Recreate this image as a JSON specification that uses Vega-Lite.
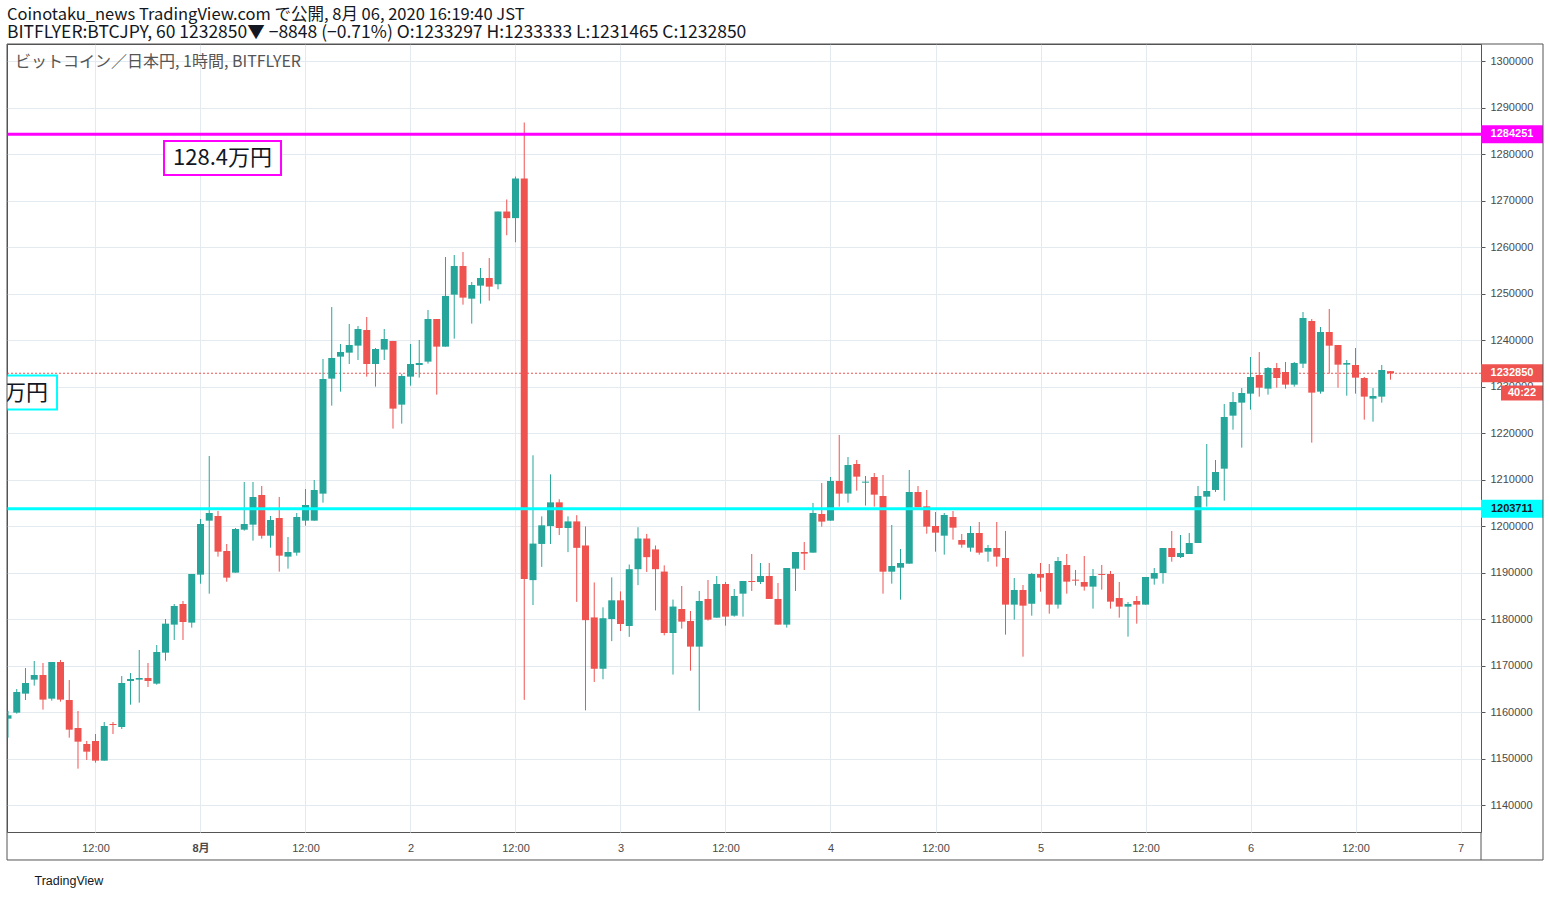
{
  "$schema": "https://vega.github.io/schema/vega-lite/v6.json",
  "width": 1474,
  "height": 788,
  "autosize": {"type": "none"},
  "padding": {"left": 7, "top": 44, "right": 69, "bottom": 66},
  "background": "white",
  "title": {
    "text": "Coinotaku_news TradingView.com で公開, 8月 06, 2020 16:19:40 JST",
    "subtitle": "BITFLYER:BTCJPY, 60 1232850▼ −8848 (−0.71%) O:1233297 H:1233333 L:1231465 C:1232850",
    "anchor": "start",
    "frame": "group",
    "offset": 2,
    "font": "Noto Sans CJK JP",
    "fontSize": 16.5,
    "fontWeight": "normal",
    "color": "#131722",
    "subtitleFont": "Noto Sans CJK JP",
    "subtitleFontSize": 17.5,
    "subtitleColor": "#131722",
    "subtitlePadding": 1
  },
  "config": {
    "view": {"stroke": "#555"},
    "axis": {
      "gridColor": "#e3eaf0",
      "gridWidth": 1,
      "labelFont": "Liberation Sans, Noto Sans CJK JP",
      "labelFontSize": 11,
      "labelColor": "#4a4a4a"
    }
  },
  "datasets": {
    "candles": [
      {"t": "2020-07-31T02:00:00Z", "o": 1158570, "h": 1160220, "l": 1154480, "c": 1159290},
      {"t": "2020-07-31T03:00:00Z", "o": 1159860, "h": 1164950, "l": 1159650, "c": 1164300},
      {"t": "2020-07-31T04:00:00Z", "o": 1163950, "h": 1169470, "l": 1162580, "c": 1166240},
      {"t": "2020-07-31T05:00:00Z", "o": 1166960, "h": 1170970, "l": 1165670, "c": 1167960},
      {"t": "2020-07-31T06:00:00Z", "o": 1167960, "h": 1170540, "l": 1160510, "c": 1162660},
      {"t": "2020-07-31T07:00:00Z", "o": 1162870, "h": 1170760, "l": 1162440, "c": 1170760},
      {"t": "2020-07-31T08:00:00Z", "o": 1170760, "h": 1171190, "l": 1162230, "c": 1162660},
      {"t": "2020-07-31T09:00:00Z", "o": 1162580, "h": 1166880, "l": 1154480, "c": 1156200},
      {"t": "2020-07-31T10:00:00Z", "o": 1156560, "h": 1160220, "l": 1147820, "c": 1153620},
      {"t": "2020-07-31T11:00:00Z", "o": 1153120, "h": 1153770, "l": 1149680, "c": 1151470},
      {"t": "2020-07-31T12:00:00Z", "o": 1153770, "h": 1155270, "l": 1149110, "c": 1149540},
      {"t": "2020-07-31T13:00:00Z", "o": 1149540, "h": 1157850, "l": 1149540, "c": 1156990},
      {"t": "2020-07-31T14:00:00Z", "o": 1157420, "h": 1157850, "l": 1155270, "c": 1157210},
      {"t": "2020-07-31T15:00:00Z", "o": 1156780, "h": 1167750, "l": 1156350, "c": 1166240},
      {"t": "2020-07-31T16:00:00Z", "o": 1166670, "h": 1168390, "l": 1161580, "c": 1167100},
      {"t": "2020-07-31T17:00:00Z", "o": 1166960, "h": 1173340, "l": 1162010, "c": 1167310},
      {"t": "2020-07-31T18:00:00Z", "o": 1167310, "h": 1170540, "l": 1165380, "c": 1166670},
      {"t": "2020-07-31T19:00:00Z", "o": 1166100, "h": 1174410, "l": 1165880, "c": 1172910},
      {"t": "2020-07-31T20:00:00Z", "o": 1172760, "h": 1180000, "l": 1171040, "c": 1179000},
      {"t": "2020-07-31T21:00:00Z", "o": 1178790, "h": 1183230, "l": 1175490, "c": 1182800},
      {"t": "2020-07-31T22:00:00Z", "o": 1183230, "h": 1183880, "l": 1175490, "c": 1179360},
      {"t": "2020-07-31T23:00:00Z", "o": 1179220, "h": 1189680, "l": 1178140, "c": 1189680},
      {"t": "2020-08-01T00:00:00Z", "o": 1189540, "h": 1201510, "l": 1187600, "c": 1200430},
      {"t": "2020-08-01T01:00:00Z", "o": 1201150, "h": 1215060, "l": 1185450, "c": 1202800},
      {"t": "2020-08-01T02:00:00Z", "o": 1202150, "h": 1203230, "l": 1193410, "c": 1194480},
      {"t": "2020-08-01T03:00:00Z", "o": 1194630, "h": 1196130, "l": 1188030, "c": 1188890},
      {"t": "2020-08-01T04:00:00Z", "o": 1189970, "h": 1199570, "l": 1189970, "c": 1199360},
      {"t": "2020-08-01T05:00:00Z", "o": 1199210, "h": 1209460, "l": 1199000, "c": 1200430},
      {"t": "2020-08-01T06:00:00Z", "o": 1200290, "h": 1209460, "l": 1196850, "c": 1206240},
      {"t": "2020-08-01T07:00:00Z", "o": 1206670, "h": 1208600, "l": 1197280, "c": 1197920},
      {"t": "2020-08-01T08:00:00Z", "o": 1197920, "h": 1202150, "l": 1195340, "c": 1201290},
      {"t": "2020-08-01T09:00:00Z", "o": 1201720, "h": 1206240, "l": 1190180, "c": 1193620},
      {"t": "2020-08-01T10:00:00Z", "o": 1193410, "h": 1197640, "l": 1190830, "c": 1194410},
      {"t": "2020-08-01T11:00:00Z", "o": 1194270, "h": 1202800, "l": 1193620, "c": 1201940},
      {"t": "2020-08-01T12:00:00Z", "o": 1201150, "h": 1207960, "l": 1200070, "c": 1204520},
      {"t": "2020-08-01T13:00:00Z", "o": 1201150, "h": 1209890, "l": 1201150, "c": 1207740},
      {"t": "2020-08-01T14:00:00Z", "o": 1206960, "h": 1235920, "l": 1205020, "c": 1231620},
      {"t": "2020-08-01T15:00:00Z", "o": 1231690, "h": 1247100, "l": 1225880, "c": 1236130},
      {"t": "2020-08-01T16:00:00Z", "o": 1236420, "h": 1239140, "l": 1228890, "c": 1237420},
      {"t": "2020-08-01T17:00:00Z", "o": 1237280, "h": 1243440, "l": 1234840, "c": 1238930},
      {"t": "2020-08-01T18:00:00Z", "o": 1238790, "h": 1243010, "l": 1235700, "c": 1242370},
      {"t": "2020-08-01T19:00:00Z", "o": 1242150, "h": 1244950, "l": 1232120, "c": 1234840},
      {"t": "2020-08-01T20:00:00Z", "o": 1234840, "h": 1238280, "l": 1229970, "c": 1238070},
      {"t": "2020-08-01T21:00:00Z", "o": 1237930, "h": 1242370, "l": 1235700, "c": 1240220},
      {"t": "2020-08-01T22:00:00Z", "o": 1239790, "h": 1239790, "l": 1220940, "c": 1225240},
      {"t": "2020-08-01T23:00:00Z", "o": 1226100, "h": 1232690, "l": 1222010, "c": 1232260},
      {"t": "2020-08-02T00:00:00Z", "o": 1232120, "h": 1239140, "l": 1230180, "c": 1234840},
      {"t": "2020-08-02T01:00:00Z", "o": 1234630, "h": 1240000, "l": 1231910, "c": 1235060},
      {"t": "2020-08-02T02:00:00Z", "o": 1235350, "h": 1246460, "l": 1234920, "c": 1244520},
      {"t": "2020-08-02T03:00:00Z", "o": 1244520, "h": 1244520, "l": 1228250, "c": 1238570},
      {"t": "2020-08-02T04:00:00Z", "o": 1238570, "h": 1257850, "l": 1238570, "c": 1249470},
      {"t": "2020-08-02T05:00:00Z", "o": 1249750, "h": 1258280, "l": 1240290, "c": 1255920},
      {"t": "2020-08-02T06:00:00Z", "o": 1255920, "h": 1258930, "l": 1247600, "c": 1249110},
      {"t": "2020-08-02T07:00:00Z", "o": 1248890, "h": 1252480, "l": 1243520, "c": 1251830},
      {"t": "2020-08-02T08:00:00Z", "o": 1251690, "h": 1255490, "l": 1247820, "c": 1253340},
      {"t": "2020-08-02T09:00:00Z", "o": 1253340, "h": 1257640, "l": 1248460, "c": 1251470},
      {"t": "2020-08-02T10:00:00Z", "o": 1251990, "h": 1267630, "l": 1250900, "c": 1267630},
      {"t": "2020-08-02T11:00:00Z", "o": 1267630, "h": 1270220, "l": 1262530, "c": 1266210},
      {"t": "2020-08-02T12:00:00Z", "o": 1266210, "h": 1275150, "l": 1261020, "c": 1274730},
      {"t": "2020-08-02T13:00:00Z", "o": 1274730, "h": 1286770, "l": 1162610, "c": 1188620},
      {"t": "2020-08-02T14:00:00Z", "o": 1188360, "h": 1215200, "l": 1183010, "c": 1196220},
      {"t": "2020-08-02T15:00:00Z", "o": 1196140, "h": 1202080, "l": 1191210, "c": 1200150},
      {"t": "2020-08-02T16:00:00Z", "o": 1199990, "h": 1211110, "l": 1196140, "c": 1205090},
      {"t": "2020-08-02T17:00:00Z", "o": 1205090, "h": 1205760, "l": 1198060, "c": 1199570},
      {"t": "2020-08-02T18:00:00Z", "o": 1199570, "h": 1202080, "l": 1194380, "c": 1200990},
      {"t": "2020-08-02T19:00:00Z", "o": 1200990, "h": 1202330, "l": 1183680, "c": 1195300},
      {"t": "2020-08-02T20:00:00Z", "o": 1195810, "h": 1199900, "l": 1160360, "c": 1179750},
      {"t": "2020-08-02T21:00:00Z", "o": 1180340, "h": 1187860, "l": 1166460, "c": 1169300},
      {"t": "2020-08-02T22:00:00Z", "o": 1169300, "h": 1182510, "l": 1167040, "c": 1180170},
      {"t": "2020-08-02T23:00:00Z", "o": 1180000, "h": 1188950, "l": 1175240, "c": 1184020},
      {"t": "2020-08-03T00:00:00Z", "o": 1184020, "h": 1185940, "l": 1177410, "c": 1178920},
      {"t": "2020-08-03T01:00:00Z", "o": 1178500, "h": 1191710, "l": 1176160, "c": 1190710},
      {"t": "2020-08-03T02:00:00Z", "o": 1190710, "h": 1199740, "l": 1187280, "c": 1197310},
      {"t": "2020-08-03T03:00:00Z", "o": 1197310, "h": 1198310, "l": 1190120, "c": 1193300},
      {"t": "2020-08-03T04:00:00Z", "o": 1194970, "h": 1195810, "l": 1181840, "c": 1190710},
      {"t": "2020-08-03T05:00:00Z", "o": 1190200, "h": 1191540, "l": 1176490, "c": 1176990},
      {"t": "2020-08-03T06:00:00Z", "o": 1176990, "h": 1184180, "l": 1168050, "c": 1182680},
      {"t": "2020-08-03T07:00:00Z", "o": 1182150, "h": 1187100, "l": 1177930, "c": 1179430},
      {"t": "2020-08-03T08:00:00Z", "o": 1179570, "h": 1181720, "l": 1168890, "c": 1174060},
      {"t": "2020-08-03T09:00:00Z", "o": 1174060, "h": 1186030, "l": 1160290, "c": 1183880},
      {"t": "2020-08-03T10:00:00Z", "o": 1184310, "h": 1188390, "l": 1179650, "c": 1179860},
      {"t": "2020-08-03T11:00:00Z", "o": 1180290, "h": 1189250, "l": 1180290, "c": 1187530},
      {"t": "2020-08-03T12:00:00Z", "o": 1187530, "h": 1187960, "l": 1178570, "c": 1180510},
      {"t": "2020-08-03T13:00:00Z", "o": 1180720, "h": 1186460, "l": 1180510, "c": 1184950},
      {"t": "2020-08-03T14:00:00Z", "o": 1185450, "h": 1188180, "l": 1180510, "c": 1188180},
      {"t": "2020-08-03T15:00:00Z", "o": 1188180, "h": 1193980, "l": 1186030, "c": 1187960},
      {"t": "2020-08-03T16:00:00Z", "o": 1187960, "h": 1192050, "l": 1187530, "c": 1189250},
      {"t": "2020-08-03T17:00:00Z", "o": 1189250, "h": 1192050, "l": 1184310, "c": 1184310},
      {"t": "2020-08-03T18:00:00Z", "o": 1184310, "h": 1187750, "l": 1178790, "c": 1178790},
      {"t": "2020-08-03T19:00:00Z", "o": 1178790, "h": 1190970, "l": 1178140, "c": 1190970},
      {"t": "2020-08-03T20:00:00Z", "o": 1190830, "h": 1194410, "l": 1186030, "c": 1194410},
      {"t": "2020-08-03T21:00:00Z", "o": 1194410, "h": 1196560, "l": 1190540, "c": 1194050},
      {"t": "2020-08-03T22:00:00Z", "o": 1194270, "h": 1204950, "l": 1194270, "c": 1202800},
      {"t": "2020-08-03T23:00:00Z", "o": 1202580, "h": 1209250, "l": 1199860, "c": 1200940},
      {"t": "2020-08-04T00:00:00Z", "o": 1201150, "h": 1210540, "l": 1201150, "c": 1209680},
      {"t": "2020-08-04T01:00:00Z", "o": 1209680, "h": 1219570, "l": 1204160, "c": 1206960},
      {"t": "2020-08-04T02:00:00Z", "o": 1206960, "h": 1214840, "l": 1205020, "c": 1213120},
      {"t": "2020-08-04T03:00:00Z", "o": 1213340, "h": 1214200, "l": 1207600, "c": 1210610},
      {"t": "2020-08-04T04:00:00Z", "o": 1209320, "h": 1210760, "l": 1204380, "c": 1209540},
      {"t": "2020-08-04T05:00:00Z", "o": 1210540, "h": 1211400, "l": 1204160, "c": 1206740},
      {"t": "2020-08-04T06:00:00Z", "o": 1206450, "h": 1210970, "l": 1185450, "c": 1190180},
      {"t": "2020-08-04T07:00:00Z", "o": 1190180, "h": 1200220, "l": 1187600, "c": 1191400},
      {"t": "2020-08-04T08:00:00Z", "o": 1191040, "h": 1195060, "l": 1184160, "c": 1192050},
      {"t": "2020-08-04T09:00:00Z", "o": 1191900, "h": 1212050, "l": 1191900, "c": 1207310},
      {"t": "2020-08-04T10:00:00Z", "o": 1207310, "h": 1208600, "l": 1204020, "c": 1204020},
      {"t": "2020-08-04T11:00:00Z", "o": 1204230, "h": 1207740, "l": 1198350, "c": 1199860},
      {"t": "2020-08-04T12:00:00Z", "o": 1200000, "h": 1203010, "l": 1194480, "c": 1198570},
      {"t": "2020-08-04T13:00:00Z", "o": 1197920, "h": 1202800, "l": 1193840, "c": 1202370},
      {"t": "2020-08-04T14:00:00Z", "o": 1201940, "h": 1203230, "l": 1197060, "c": 1199640},
      {"t": "2020-08-04T15:00:00Z", "o": 1196990, "h": 1198280, "l": 1195340, "c": 1195990},
      {"t": "2020-08-04T16:00:00Z", "o": 1195340, "h": 1200000, "l": 1194480, "c": 1198500},
      {"t": "2020-08-04T17:00:00Z", "o": 1198500, "h": 1200860, "l": 1193840, "c": 1194270},
      {"t": "2020-08-04T18:00:00Z", "o": 1194480, "h": 1195920, "l": 1192330, "c": 1195270},
      {"t": "2020-08-04T19:00:00Z", "o": 1195270, "h": 1200860, "l": 1191260, "c": 1193410},
      {"t": "2020-08-04T20:00:00Z", "o": 1193120, "h": 1198930, "l": 1176640, "c": 1183090},
      {"t": "2020-08-04T21:00:00Z", "o": 1183090, "h": 1188820, "l": 1179860, "c": 1186240},
      {"t": "2020-08-04T22:00:00Z", "o": 1186240, "h": 1187320, "l": 1171900, "c": 1182870},
      {"t": "2020-08-04T23:00:00Z", "o": 1183300, "h": 1189900, "l": 1180720, "c": 1189680},
      {"t": "2020-08-05T00:00:00Z", "o": 1189680, "h": 1192050, "l": 1185880, "c": 1188890},
      {"t": "2020-08-05T01:00:00Z", "o": 1189900, "h": 1191830, "l": 1181150, "c": 1183090},
      {"t": "2020-08-05T02:00:00Z", "o": 1183090, "h": 1193340, "l": 1182230, "c": 1192480},
      {"t": "2020-08-05T03:00:00Z", "o": 1191620, "h": 1193980, "l": 1185450, "c": 1188030},
      {"t": "2020-08-05T04:00:00Z", "o": 1188460, "h": 1190540, "l": 1187170, "c": 1188250},
      {"t": "2020-08-05T05:00:00Z", "o": 1187960, "h": 1193550, "l": 1186100, "c": 1186960},
      {"t": "2020-08-05T06:00:00Z", "o": 1186960, "h": 1190760, "l": 1182230, "c": 1189250},
      {"t": "2020-08-05T07:00:00Z", "o": 1189680, "h": 1191620, "l": 1186310, "c": 1189470},
      {"t": "2020-08-05T08:00:00Z", "o": 1189680, "h": 1190330, "l": 1182230, "c": 1183730},
      {"t": "2020-08-05T09:00:00Z", "o": 1184520, "h": 1187960, "l": 1180290, "c": 1182660},
      {"t": "2020-08-05T10:00:00Z", "o": 1182660, "h": 1183660, "l": 1176210, "c": 1183230},
      {"t": "2020-08-05T11:00:00Z", "o": 1183870, "h": 1184950, "l": 1179000, "c": 1183090},
      {"t": "2020-08-05T12:00:00Z", "o": 1183090, "h": 1189040, "l": 1183090, "c": 1189040},
      {"t": "2020-08-05T13:00:00Z", "o": 1188680, "h": 1190970, "l": 1187390, "c": 1189900},
      {"t": "2020-08-05T14:00:00Z", "o": 1189900, "h": 1195270, "l": 1187600, "c": 1195270},
      {"t": "2020-08-05T15:00:00Z", "o": 1195270, "h": 1198930, "l": 1192330, "c": 1193340},
      {"t": "2020-08-05T16:00:00Z", "o": 1193340, "h": 1198070, "l": 1193120, "c": 1194200},
      {"t": "2020-08-05T17:00:00Z", "o": 1193980, "h": 1198500, "l": 1193980, "c": 1196350},
      {"t": "2020-08-05T18:00:00Z", "o": 1196350, "h": 1208610, "l": 1196350, "c": 1206450},
      {"t": "2020-08-05T19:00:00Z", "o": 1206310, "h": 1217640, "l": 1204160, "c": 1207530},
      {"t": "2020-08-05T20:00:00Z", "o": 1207750, "h": 1214200, "l": 1207320, "c": 1211620},
      {"t": "2020-08-05T21:00:00Z", "o": 1212330, "h": 1226240, "l": 1205450, "c": 1223440},
      {"t": "2020-08-05T22:00:00Z", "o": 1223730, "h": 1228820, "l": 1220720, "c": 1226670},
      {"t": "2020-08-05T23:00:00Z", "o": 1226530, "h": 1229680, "l": 1216850, "c": 1228610},
      {"t": "2020-08-06T00:00:00Z", "o": 1228460, "h": 1236350, "l": 1225020, "c": 1232050},
      {"t": "2020-08-06T01:00:00Z", "o": 1232480, "h": 1237420, "l": 1227820, "c": 1229750},
      {"t": "2020-08-06T02:00:00Z", "o": 1229540, "h": 1234200, "l": 1228250, "c": 1233980},
      {"t": "2020-08-06T03:00:00Z", "o": 1233980, "h": 1235060, "l": 1229750, "c": 1231830},
      {"t": "2020-08-06T04:00:00Z", "o": 1233120, "h": 1235270, "l": 1229540, "c": 1230400},
      {"t": "2020-08-06T05:00:00Z", "o": 1230400, "h": 1235270, "l": 1229970, "c": 1235060},
      {"t": "2020-08-06T06:00:00Z", "o": 1234910, "h": 1246020, "l": 1233980, "c": 1244730},
      {"t": "2020-08-06T07:00:00Z", "o": 1244090, "h": 1244520, "l": 1217930, "c": 1228680},
      {"t": "2020-08-06T08:00:00Z", "o": 1228890, "h": 1242800, "l": 1228460, "c": 1241720},
      {"t": "2020-08-06T09:00:00Z", "o": 1241720, "h": 1246670, "l": 1232760, "c": 1238780},
      {"t": "2020-08-06T10:00:00Z", "o": 1238930, "h": 1238930, "l": 1229750, "c": 1234700},
      {"t": "2020-08-06T11:00:00Z", "o": 1234700, "h": 1235700, "l": 1228030, "c": 1235060},
      {"t": "2020-08-06T12:00:00Z", "o": 1234630, "h": 1238280, "l": 1228460, "c": 1231900},
      {"t": "2020-08-06T13:00:00Z", "o": 1231830, "h": 1232050, "l": 1222870, "c": 1227820},
      {"t": "2020-08-06T14:00:00Z", "o": 1227390, "h": 1229680, "l": 1222440, "c": 1227960},
      {"t": "2020-08-06T15:00:00Z", "o": 1227820, "h": 1234630, "l": 1226530, "c": 1233550},
      {"t": "2020-08-06T16:00:00Z", "o": 1233297, "h": 1233333, "l": 1231465, "c": 1232850}
    ],
    "levels": [
      {"name": "upper", "p": 1284251},
      {"name": "last", "p": 1232850},
      {"name": "lower", "p": 1203711}
    ],
    "notes": [
      {"name": "upper", "t": "2020-08-01T02:31:00Z", "p": 1279140, "label": "128.4万円"},
      {"name": "lower", "t": "2020-07-31T00:55:00Z", "p": 1228710, "label": "120.4万円"}
    ],
    "caption": [
      {"t": "2020-07-31T02:48:00Z", "p": 1299785, "label": "ビットコイン／日本円, 1時間, BITFLYER"}
    ],
    "countdown": [
      {"p": 1228600, "label": "40:22"}
    ]
  },
  "data": {"name": "candles"},
  "layer": [
    {
      "data": {"name": "levels"},
      "transform": [{"filter": "datum.name == 'last'"}],
      "mark": {"type": "rule", "color": "#ef5350", "strokeDash": [2, 2], "strokeWidth": 1},
      "encoding": {
        "y": {"field": "p", "type": "quantitative", "title": null}
      }
    },
    {
      "mark": {"type": "rule", "strokeWidth": 1, "clip": true},
      "encoding": {
        "x": {
          "field": "t",
          "type": "temporal",
          "scale": {
            "type": "utc",
            "padding": 0,
            "domain": [
              {"year": 2020, "month": 7, "date": 31, "hours": 1, "minutes": 53, "seconds": 9, "utc": true},
              {"year": 2020, "month": 8, "date": 7, "hours": 2, "minutes": 20, "seconds": 34, "utc": true}
            ]
          },
          "axis": {
            "values": [
              {"year": 2020, "month": 7, "date": 31, "hours": 12, "utc": true},
              {"year": 2020, "month": 8, "date": 1, "hours": 0, "utc": true},
              {"year": 2020, "month": 8, "date": 1, "hours": 12, "utc": true},
              {"year": 2020, "month": 8, "date": 2, "hours": 0, "utc": true},
              {"year": 2020, "month": 8, "date": 2, "hours": 12, "utc": true},
              {"year": 2020, "month": 8, "date": 3, "hours": 0, "utc": true},
              {"year": 2020, "month": 8, "date": 3, "hours": 12, "utc": true},
              {"year": 2020, "month": 8, "date": 4, "hours": 0, "utc": true},
              {"year": 2020, "month": 8, "date": 4, "hours": 12, "utc": true},
              {"year": 2020, "month": 8, "date": 5, "hours": 0, "utc": true},
              {"year": 2020, "month": 8, "date": 5, "hours": 12, "utc": true},
              {"year": 2020, "month": 8, "date": 6, "hours": 0, "utc": true},
              {"year": 2020, "month": 8, "date": 6, "hours": 12, "utc": true},
              {"year": 2020, "month": 8, "date": 7, "hours": 0, "utc": true}
            ],
            "labelExpr": "utchours(datum.value) == 12 ? '12:00' : (utcdate(datum.value) == 1 ? '8月' : '' + utcdate(datum.value))",
            "labelFontWeight": {"condition": {"test": "utchours(datum.value) == 0 && utcdate(datum.value) == 1", "value": "bold"}, "value": "normal"},
            "grid": true,
            "ticks": false,
            "tickSize": 0,
            "domain": false,
            "labelPadding": 10,
            "labelFlush": false,
            "labelOverlap": false,
            "title": "TradingView",
            "titleAnchor": "start",
            "titleAlign": "left",
            "titleBaseline": "middle",
            "titleX": 27,
            "titleY": 48,
            "titleFont": "Liberation Sans",
            "titleFontSize": 12.5,
            "titleFontWeight": "normal",
            "titleColor": "#131722"
          }
        },
        "y": {
          "field": "l",
          "type": "quantitative",
          "title": null,
          "scale": {"domain": [1134196, 1303656], "zero": false, "nice": false},
          "axis": {
            "orient": "right",
            "values": [1140000, 1150000, 1160000, 1170000, 1180000, 1190000, 1200000, 1210000, 1220000, 1230000, 1240000, 1250000, 1260000, 1270000, 1280000, 1290000, 1300000],
            "format": "d",
            "grid": true,
            "ticks": true,
            "tickSize": 4,
            "tickColor": "#555",
            "domain": false,
            "labelPadding": 5,
            "labelFlush": false,
            "labelOverlap": false,
            "title": null
          }
        },
        "y2": {"field": "h"},
        "color": {"condition": {"test": "datum.c >= datum.o", "value": "#26a69a"}, "value": "#ef5350"}
      }
    },
    {
      "mark": {"type": "bar", "size": 7, "clip": true},
      "encoding": {
        "x": {"field": "t", "type": "temporal"},
        "y": {"field": "o", "type": "quantitative", "title": null},
        "y2": {"field": "c"},
        "color": {"condition": {"test": "datum.c >= datum.o", "value": "#26a69a"}, "value": "#ef5350"}
      }
    },
    {
      "data": {"name": "levels"},
      "transform": [{"filter": "datum.name != 'last'"}],
      "mark": {"type": "rule", "strokeWidth": 3},
      "encoding": {
        "y": {"field": "p", "type": "quantitative", "title": null},
        "color": {"field": "name", "type": "nominal", "scale": {"domain": ["upper", "lower"], "range": ["#ff00ff", "#00ffff"]}, "legend": null}
      }
    },
    {
      "data": {"name": "caption"},
      "mark": {"type": "text", "align": "left", "baseline": "middle", "font": "Noto Sans CJK JP", "fontSize": 16, "color": "#555"},
      "encoding": {
        "x": {"field": "t", "type": "temporal"},
        "y": {"field": "p", "type": "quantitative", "title": null},
        "text": {"field": "label"}
      }
    },
    {
      "data": {"name": "notes"},
      "mark": {"type": "point", "shape": "M-1,-0.29L1,-0.29L1,0.29L-1,0.29Z", "size": 13689, "fill": "white", "fillOpacity": 1, "opacity": 1, "strokeWidth": 2, "clip": true},
      "encoding": {
        "x": {"field": "t", "type": "temporal"},
        "y": {"field": "p", "type": "quantitative", "title": null},
        "stroke": {"field": "name", "type": "nominal", "scale": {"domain": ["upper", "lower"], "range": ["#ff00ff", "#00ffff"]}, "legend": null}
      }
    },
    {
      "data": {"name": "notes"},
      "mark": {"type": "text", "align": "center", "baseline": "middle", "font": "Noto Sans CJK JP", "fontSize": 22, "color": "#131722", "clip": true},
      "encoding": {
        "x": {"field": "t", "type": "temporal"},
        "y": {"field": "p", "type": "quantitative", "title": null},
        "text": {"field": "label"}
      }
    },
    {
      "data": {"name": "levels"},
      "mark": {"type": "point", "shape": "M-1,-0.29L1,-0.29L1,0.29L-1,0.29Z", "size": 3844, "filled": true, "opacity": 1, "clip": false},
      "encoding": {
        "x": {"datum": {"year": 2020, "month": 8, "date": 7, "hours": 5, "minutes": 53, "seconds": 9, "utc": true}, "type": "temporal"},
        "y": {"field": "p", "type": "quantitative", "title": null},
        "fill": {"field": "name", "type": "nominal", "scale": {"domain": ["upper", "last", "lower"], "range": ["#ff00ff", "#ef5350", "#00ffff"]}, "legend": null}
      }
    },
    {
      "data": {"name": "levels"},
      "mark": {"type": "text", "align": "center", "baseline": "middle", "font": "Liberation Sans", "fontSize": 11, "fontWeight": "bold", "clip": false},
      "encoding": {
        "x": {"datum": {"year": 2020, "month": 8, "date": 7, "hours": 5, "minutes": 53, "seconds": 9, "utc": true}, "type": "temporal"},
        "y": {"field": "p", "type": "quantitative", "title": null},
        "text": {"field": "p", "type": "quantitative", "format": "d"},
        "color": {"condition": {"test": "datum.name == 'lower'", "value": "#131722"}, "value": "white"}
      }
    },
    {
      "data": {"name": "countdown"},
      "mark": {"type": "point", "shape": "M-1,-0.36L1,-0.36L1,0.36L-1,0.36Z", "size": 1764, "filled": true, "opacity": 1, "color": "#ef5350", "clip": false},
      "encoding": {
        "x": {"datum": {"year": 2020, "month": 8, "date": 7, "hours": 7, "minutes": 1, "seconds": 43, "utc": true}, "type": "temporal"},
        "y": {"field": "p", "type": "quantitative", "title": null}
      }
    },
    {
      "data": {"name": "countdown"},
      "mark": {"type": "text", "align": "center", "baseline": "middle", "font": "Liberation Sans", "fontSize": 11, "fontWeight": "bold", "color": "white", "clip": false},
      "encoding": {
        "x": {"datum": {"year": 2020, "month": 8, "date": 7, "hours": 7, "minutes": 1, "seconds": 43, "utc": true}, "type": "temporal"},
        "y": {"field": "p", "type": "quantitative", "title": null},
        "text": {"field": "label"}
      }
    },
    {
      "data": {"values": [{}]},
      "mark": {"type": "rect", "fill": "transparent", "stroke": "#555", "strokeWidth": 1, "clip": false},
      "encoding": {
        "x": {"datum": {"year": 2020, "month": 7, "date": 31, "hours": 1, "minutes": 53, "seconds": 9, "utc": true}, "type": "temporal"},
        "x2": {"datum": {"year": 2020, "month": 8, "date": 7, "hours": 9, "minutes": 25, "seconds": 43, "utc": true}},
        "y": {"datum": 1303656, "type": "quantitative"},
        "y2": {"datum": 1128175}
      }
    },
    {
      "data": {"values": [{}]},
      "mark": {"type": "rule", "color": "#555", "strokeWidth": 1, "clip": false},
      "encoding": {
        "x": {"datum": {"year": 2020, "month": 8, "date": 7, "hours": 2, "minutes": 20, "seconds": 34, "utc": true}, "type": "temporal"},
        "y": {"datum": 1134196, "type": "quantitative"},
        "y2": {"datum": 1128175}
      }
    }
  ]
}
